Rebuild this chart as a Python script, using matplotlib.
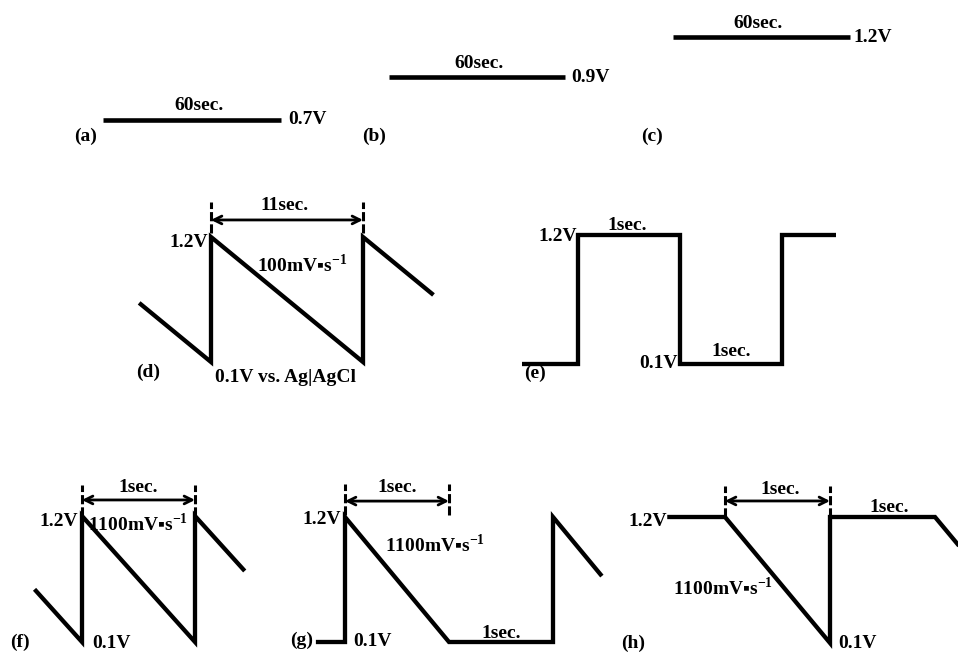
import matplotlib
matplotlib.use("Agg")
import matplotlib.pyplot as plt

plt.rcParams["font.family"] = ["Liberation Serif", "DejaVu Sans"]
plt.rcParams["font.weight"] = "bold"
plt.rcParams["font.size"] = 14

W, H = 958, 653

# (a)-(c): constant potential holds
hold_levels = [0.7, 0.9, 1.2]
hold_time = [0, 60]

# (d): 100 mV/s sawtooth, 1.2 V -> 0.1 V
d_time = [-5.2, 0, 0, 11, 11, 16.1]
d_volt = [0.62, 0.1, 1.2, 0.1, 1.2, 0.69]

# (e): square wave, 1 s at each level
e_time = [-0.55, 0, 0, 1, 1, 2, 2, 2.53]
e_volt = [0.1, 0.1, 1.2, 1.2, 0.1, 0.1, 1.2, 1.2]

# (f): 1100 mV/s sawtooth
f_time = [-0.42, 0, 0, 1, 1, 1.44]
f_volt = [0.56, 0.1, 1.2, 0.1, 1.2, 0.72]

# (g): sweep down then hold 1 s at 0.1 V
g_time = [-0.28, 0, 0, 1, 2, 2, 2.47]
g_volt = [0.1, 0.1, 1.2, 0.1, 0.1, 1.2, 0.68]

# (h): hold 1 s at 1.2 V then sweep down
h_time = [-0.55, 0, 1, 1, 2, 2.3]
h_volt = [1.2, 1.2, 0.1, 1.2, 1.2, 0.87]

fig = plt.figure(figsize=(W / 100, H / 100), dpi=100)


def panel(x0, x1, t0, t1, ytop, ybot, vtop, vbot):
    # axes placed so that (t0, t1) -> pixels x0..x1 and (vtop, vbot) -> ytop..ybot
    ax = fig.add_axes([x0 / W, 1 - ybot / H, (x1 - x0) / W, (ybot - ytop) / H])
    ax.set_xlim(t0, t1)
    ax.set_ylim(vbot, vtop)
    ax.axis("off")
    return ax


def wave(ax, t, v, lw=3.1):
    ax.plot(t, v, color="black", lw=lw, clip_on=False,
            solid_joinstyle="miter", solid_capstyle="butt")


def span(ax, t0, t1, v_lo, v_hi, v_arrow):
    for t in (t0, t1):
        ax.plot([t, t], [v_lo, v_hi], color="black", lw=2.2,
                ls=(0, (3, 1)), clip_on=False)
    ax.annotate("", xy=(t1, v_arrow), xytext=(t0, v_arrow),
                annotation_clip=False,
                arrowprops=dict(arrowstyle="<->", lw=2, color="black",
                                shrinkA=0, shrinkB=0, mutation_scale=14))


def label(x, y, s, ha="center"):
    fig.text(x / W, 1 - y / H, s, ha=ha, va="center")


SR = r"$^{\mathregular{-1}}$"
RATE = "mV\u25aas" + SR

# top row
hold_pix = [(103, 281, 120), (389, 565, 77), (673, 850, 37)]
for level, (x0, x1, y) in zip(hold_levels, hold_pix):
    ax = panel(x0, x1, hold_time[0], hold_time[1], y - 20, y + 20,
               level + 0.5, level - 0.5)
    wave(ax, hold_time, [level, level], lw=3.3)

label(199, 105, "60sec.")
label(288, 120, "0.7V", ha="left")
label(86, 136, "(a)")
label(479, 63, "60sec.")
label(571, 77, "0.9V", ha="left")
label(374, 136, "(b)")
label(758, 23, "60sec.")
label(853, 38, "1.2V", ha="left")
label(652, 136, "(c)")

# (d)
ax = panel(211, 363, 0, 11, 237, 362, 1.2, 0.1)
wave(ax, d_time, d_volt)
span(ax, d_time[1], d_time[3], 1.235, 1.51, 1.35)
label(285, 205, "11sec.")
label(208, 242, "1.2V", ha="right")
label(257, 265, "100" + RATE, ha="left")
label(148, 372, "(d)")
label(215, 377, "0.1V vs. Ag|AgCl", ha="left")

# (e)
ax = panel(578, 680, 0, 1, 235, 364, 1.2, 0.1)
wave(ax, e_time, e_volt)
label(627, 226, "1sec.")
label(577, 237, "1.2V", ha="right")
label(678, 364, "0.1V", ha="right")
label(731, 352, "1sec.")
label(535, 373, "(e)")

# (f)
ax = panel(82, 195, 0, 1, 516, 642, 1.2, 0.1)
wave(ax, f_time, f_volt)
span(ax, 0, 1, 1.2, 1.47, 1.34)
label(138, 488, "1sec.")
label(78, 522, "1.2V", ha="right")
label(88, 524, "1100" + RATE, ha="left")
label(20, 642, "(f)")
label(92, 643, "0.1V", ha="left")

# (g)
ax = panel(345, 449, 0, 1, 517, 642, 1.2, 0.1)
wave(ax, g_time, g_volt)
span(ax, 0, 1, 1.22, 1.49, 1.34)
label(397, 487, "1sec.")
label(341, 520, "1.2V", ha="right")
label(385, 545, "1100" + RATE, ha="left")
label(353, 642, "0.1V", ha="left")
label(501, 633, "1sec.")
label(302, 640, "(g)")

# (h)
ax = panel(725, 830, 0, 1, 517, 643, 1.2, 0.1)
wave(ax, h_time, h_volt)
span(ax, 0, 1, 1.2, 1.47, 1.34)
label(780, 490, "1sec.")
label(889, 508, "1sec.")
label(667, 522, "1.2V", ha="right")
label(673, 588, "1100" + RATE, ha="left")
label(838, 643, "0.1V", ha="left")
label(633, 643, "(h)")

plt.savefig("out.png", dpi=100, facecolor="white")
